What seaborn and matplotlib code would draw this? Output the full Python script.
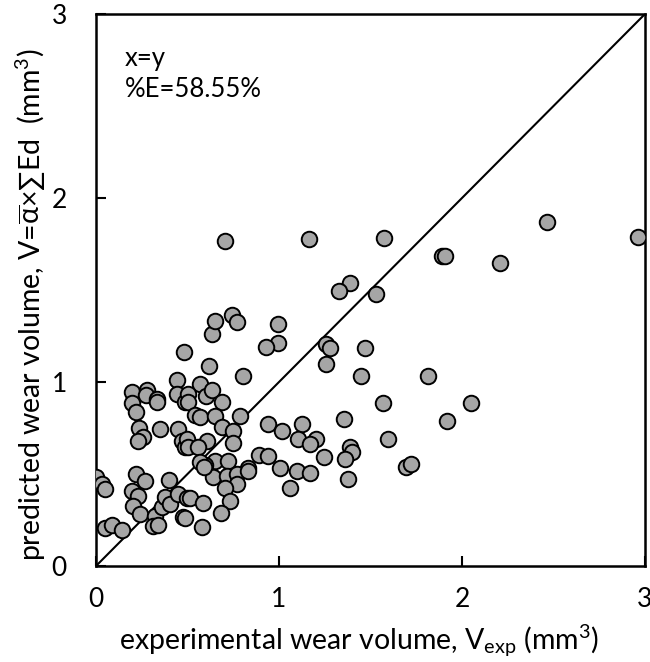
import matplotlib
matplotlib.use("Agg")
import matplotlib.pyplot as plt
import seaborn as sns
import pandas as pd

# experimental wear volume (mm^3)
v_exp = [0.0, 0.031, 0.049, 0.049, 0.086, 0.14, 0.195, 0.195, 0.219, 0.277,
         0.273, 0.331, 0.335, 0.237, 0.259, 0.231, 0.35, 0.219, 0.268, 0.195,
         0.231, 0.204, 0.24, 0.322, 0.313, 0.34, 0.359, 0.377, 0.404, 0.399,
         0.45, 0.495, 0.473, 0.444, 0.444, 0.486, 0.446, 0.468, 0.486, 0.483,
         0.568, 0.504, 0.504, 0.599, 0.632, 0.619, 0.687, 0.54, 0.568, 0.65,
         0.787, 0.686, 0.75, 0.75, 0.605, 0.495, 0.504, 0.559, 0.65, 0.596,
         0.568, 0.723, 0.832, 0.891, 0.938, 0.942, 1.014, 1.005, 0.641, 0.714,
         0.768, 0.832, 0.768, 0.705, 0.732, 0.683, 0.514, 0.586, 0.486, 0.581,
         1.06, 0.803, 0.632, 0.65, 0.745, 0.772, 0.996, 0.996, 0.929, 0.705,
         1.164, 1.574, 2.464, 2.96, 1.89, 1.905, 2.21, 1.386, 1.33, 1.53,
         1.257, 1.279, 1.47, 1.257, 1.448, 1.814, 1.568, 2.05, 1.916, 1.355,
         1.124, 1.102, 1.2, 1.169, 1.593, 1.388, 1.397, 1.36, 1.244, 1.096,
         1.169, 1.375, 1.692, 1.719, 0.592]

# predicted wear volume (mm^3)
v_pred = [0.481, 0.444, 0.417, 0.208, 0.222, 0.198, 0.945, 0.885, 0.836, 0.958,
          0.927, 0.905, 0.89, 0.749, 0.70, 0.68, 0.745, 0.499, 0.463, 0.408,
          0.381, 0.326, 0.284, 0.271, 0.216, 0.222, 0.321, 0.375, 0.335, 0.466,
          0.39, 0.372, 0.266, 1.01, 0.936, 0.89, 0.745, 0.68, 0.645, 1.164,
          0.991, 0.936, 0.89, 0.922, 0.955, 1.087, 0.89, 0.818, 0.809, 0.813,
          0.813, 0.758, 0.736, 0.667, 0.678, 0.69, 0.645, 0.645, 0.572, 0.55,
          0.563, 0.572, 0.535, 0.605, 0.60, 0.772, 0.736, 0.535, 0.485, 0.49,
          0.499, 0.517, 0.444, 0.422, 0.353, 0.286, 0.372, 0.344, 0.262, 0.213,
          0.426, 1.031, 1.26, 1.333, 1.364, 1.324, 1.317, 1.213, 1.188, 1.765,
          1.776, 1.78, 1.87, 1.79, 1.685, 1.685, 1.645, 1.537, 1.497, 1.48,
          1.204, 1.186, 1.186, 1.10, 1.03, 1.03, 0.887, 0.887, 0.79, 0.80,
          0.77, 0.69, 0.69, 0.663, 0.69, 0.649, 0.617, 0.581, 0.594, 0.514,
          0.503, 0.472, 0.539, 0.554, 0.539]

ticks = [0, 1, 2, 3]
annot_lines = ["x=y", "%E=58.55%"]

sns.set_theme(style="white")
fam = ["Lato", "DejaVu Sans"]
plt.rcParams["font.family"] = fam
plt.rcParams["mathtext.fontset"] = "custom"
plt.rcParams["mathtext.rm"] = "Lato"
plt.rcParams["mathtext.it"] = "Lato:italic"
plt.rcParams["mathtext.default"] = "regular"

df = pd.DataFrame({"exp": v_exp, "pred": v_pred})

fig = plt.figure(figsize=(6.5, 6.62), dpi=100)
ax = fig.add_axes([96 / 650, 1 - 566 / 662, 549 / 650, 552 / 662])

ax.axline((0, 0), slope=1, color="black", lw=1.5, zorder=1)
sns.scatterplot(data=df, x="exp", y="pred", ax=ax, s=125, color="#a6a6a6",
                edgecolor="black", linewidth=1.4, zorder=3, legend=False)

ax.set_xlim(0, 3)
ax.set_ylim(0, 3)
ax.set_xticks(ticks)
ax.set_yticks(ticks)
ax.set_xticklabels([str(t) for t in ticks])
ax.set_yticklabels([str(t) for t in ticks])
ax.tick_params(axis="both", direction="in", length=7, width=1.5,
               labelsize=19, colors="black", bottom=True, left=True,
               top=False, right=False)
ax.tick_params(axis="x", pad=15)
ax.tick_params(axis="y", pad=21)
for sp in ax.spines.values():
    sp.set_color("black")
    sp.set_linewidth(1.8)

ax.set_xlabel("experimental wear volume, V$_{exp}$ (mm$^3$)", fontsize=20.5,
              color="black")
ax.set_ylabel(r"predicted wear volume, V=$\overline{\alpha}$×∑Ed  (mm$^3$)",
              fontsize=20.5, color="black")
ax.xaxis.set_label_coords(0.479, -0.103)
ax.yaxis.set_label_coords(-0.087, 0.473)

ax.text(0.053, 0.906, annot_lines[0], transform=ax.transAxes, fontsize=18.5,
        va="baseline", ha="left", color="black")
ax.text(0.053, 0.850, annot_lines[1], transform=ax.transAxes, fontsize=18.5,
        va="baseline", ha="left", color="black")

fig.savefig("out.png", dpi=100)
